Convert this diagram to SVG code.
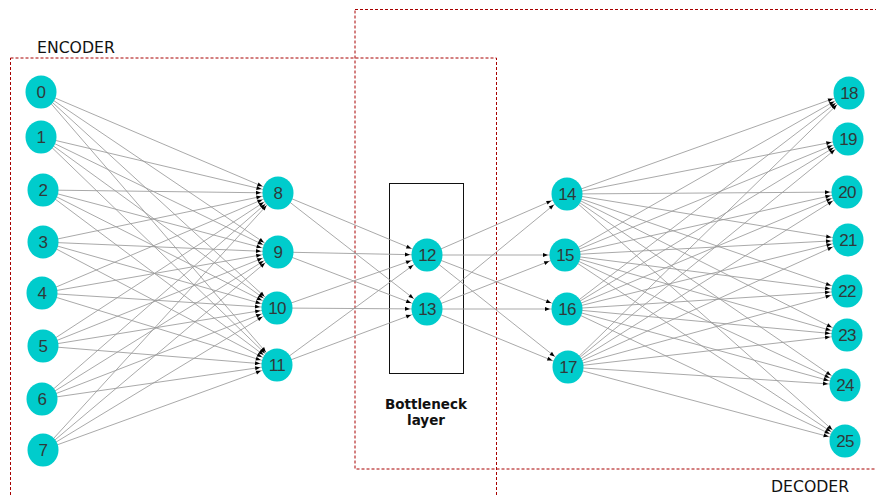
<svg xmlns="http://www.w3.org/2000/svg" width="876" height="497" viewBox="0 0 876 497">
<defs>
<style>
.e{stroke:#9a9a9a;stroke-width:0.85;fill:none;marker-end:url(#ah)}
.n ellipse{fill:#00cccc}
.n text{font-family:"Liberation Sans",Arial,sans-serif;font-size:17px;letter-spacing:-0.6px;fill:#2f3a3a;text-anchor:middle}
.box{fill:none;stroke:#a80000;stroke-width:1;stroke-dasharray:3 2}
.cap{font-family:"DejaVu Sans",sans-serif;font-size:15.7px;fill:#111}
.bl{font-family:"DejaVu Sans",sans-serif;font-size:13.5px;font-weight:bold;fill:#111;text-anchor:middle}
</style>
<marker id="ah" viewBox="0 0 22 4" refX="22" refY="2" markerWidth="22" markerHeight="4" markerUnits="userSpaceOnUse" orient="auto" overflow="visible">
<path d="M0,0 L5,2 L0,4 z" fill="#000"/>
</marker>
</defs>
<rect width="876" height="497" fill="#fff"/>

<!-- group frames -->
<rect class="box" x="10.5" y="58" width="486" height="450"/>
<rect class="box" x="355" y="9.5" width="530" height="459.5"/>
<text class="cap" x="37" y="53">ENCODER</text>
<text class="cap" x="771" y="492">DECODER</text>

<!-- bottleneck frame -->
<rect x="389.5" y="183.5" width="74" height="190" fill="none" stroke="#111" stroke-width="1"/>
<text class="bl" x="426" y="409">Bottleneck</text>
<text class="bl" x="426" y="425">layer</text>

<g id="connectors">
<!-- inputs to hidden layer 1 -->
<line class="e" x1="41" y1="92" x2="278" y2="193"/>
<line class="e" x1="41" y1="92" x2="278" y2="252"/>
<line class="e" x1="41" y1="92" x2="277" y2="308"/>
<line class="e" x1="41" y1="92" x2="277" y2="365"/>
<line class="e" x1="41" y1="137" x2="278" y2="193"/>
<line class="e" x1="41" y1="137" x2="278" y2="252"/>
<line class="e" x1="41" y1="137" x2="277" y2="308"/>
<line class="e" x1="41" y1="137" x2="277" y2="365"/>
<line class="e" x1="43" y1="190" x2="278" y2="193"/>
<line class="e" x1="43" y1="190" x2="278" y2="252"/>
<line class="e" x1="43" y1="190" x2="277" y2="308"/>
<line class="e" x1="43" y1="190" x2="277" y2="365"/>
<line class="e" x1="43" y1="242" x2="278" y2="193"/>
<line class="e" x1="43" y1="242" x2="278" y2="252"/>
<line class="e" x1="43" y1="242" x2="277" y2="308"/>
<line class="e" x1="43" y1="242" x2="277" y2="365"/>
<line class="e" x1="42" y1="293" x2="278" y2="193"/>
<line class="e" x1="42" y1="293" x2="278" y2="252"/>
<line class="e" x1="42" y1="293" x2="277" y2="308"/>
<line class="e" x1="42" y1="293" x2="277" y2="365"/>
<line class="e" x1="43" y1="346" x2="278" y2="193"/>
<line class="e" x1="43" y1="346" x2="278" y2="252"/>
<line class="e" x1="43" y1="346" x2="277" y2="308"/>
<line class="e" x1="43" y1="346" x2="277" y2="365"/>
<line class="e" x1="42" y1="399" x2="278" y2="193"/>
<line class="e" x1="42" y1="399" x2="278" y2="252"/>
<line class="e" x1="42" y1="399" x2="277" y2="308"/>
<line class="e" x1="42" y1="399" x2="277" y2="365"/>
<line class="e" x1="43" y1="450" x2="278" y2="193"/>
<line class="e" x1="43" y1="450" x2="278" y2="252"/>
<line class="e" x1="43" y1="450" x2="277" y2="308"/>
<line class="e" x1="43" y1="450" x2="277" y2="365"/>
<!-- hidden layer 1 to bottleneck -->
<line class="e" x1="278" y1="193" x2="427" y2="255"/>
<line class="e" x1="278" y1="193" x2="427" y2="309"/>
<line class="e" x1="278" y1="252" x2="427" y2="255"/>
<line class="e" x1="278" y1="252" x2="427" y2="309"/>
<line class="e" x1="277" y1="308" x2="427" y2="255"/>
<line class="e" x1="277" y1="308" x2="427" y2="309"/>
<line class="e" x1="277" y1="365" x2="427" y2="255"/>
<line class="e" x1="277" y1="365" x2="427" y2="309"/>
<!-- bottleneck to hidden layer 2 -->
<line class="e" x1="427" y1="255" x2="567" y2="194"/>
<line class="e" x1="427" y1="255" x2="565" y2="255"/>
<line class="e" x1="427" y1="255" x2="567" y2="309"/>
<line class="e" x1="427" y1="255" x2="568" y2="367"/>
<line class="e" x1="427" y1="309" x2="567" y2="194"/>
<line class="e" x1="427" y1="309" x2="565" y2="255"/>
<line class="e" x1="427" y1="309" x2="567" y2="309"/>
<line class="e" x1="427" y1="309" x2="568" y2="367"/>
<!-- hidden layer 2 to outputs -->
<line class="e" x1="567" y1="194" x2="849" y2="93"/>
<line class="e" x1="567" y1="194" x2="848" y2="139"/>
<line class="e" x1="567" y1="194" x2="847" y2="192"/>
<line class="e" x1="567" y1="194" x2="848" y2="240"/>
<line class="e" x1="567" y1="194" x2="847" y2="291"/>
<line class="e" x1="567" y1="194" x2="847" y2="335"/>
<line class="e" x1="567" y1="194" x2="845" y2="385"/>
<line class="e" x1="567" y1="194" x2="845" y2="441"/>
<line class="e" x1="565" y1="255" x2="849" y2="93"/>
<line class="e" x1="565" y1="255" x2="848" y2="139"/>
<line class="e" x1="565" y1="255" x2="847" y2="192"/>
<line class="e" x1="565" y1="255" x2="848" y2="240"/>
<line class="e" x1="565" y1="255" x2="847" y2="291"/>
<line class="e" x1="565" y1="255" x2="847" y2="335"/>
<line class="e" x1="565" y1="255" x2="845" y2="385"/>
<line class="e" x1="565" y1="255" x2="845" y2="441"/>
<line class="e" x1="567" y1="309" x2="849" y2="93"/>
<line class="e" x1="567" y1="309" x2="848" y2="139"/>
<line class="e" x1="567" y1="309" x2="847" y2="192"/>
<line class="e" x1="567" y1="309" x2="848" y2="240"/>
<line class="e" x1="567" y1="309" x2="847" y2="291"/>
<line class="e" x1="567" y1="309" x2="847" y2="335"/>
<line class="e" x1="567" y1="309" x2="845" y2="385"/>
<line class="e" x1="567" y1="309" x2="845" y2="441"/>
<line class="e" x1="568" y1="367" x2="849" y2="93"/>
<line class="e" x1="568" y1="367" x2="848" y2="139"/>
<line class="e" x1="568" y1="367" x2="847" y2="192"/>
<line class="e" x1="568" y1="367" x2="848" y2="240"/>
<line class="e" x1="568" y1="367" x2="847" y2="291"/>
<line class="e" x1="568" y1="367" x2="847" y2="335"/>
<line class="e" x1="568" y1="367" x2="845" y2="385"/>
<line class="e" x1="568" y1="367" x2="845" y2="441"/>
</g>

<g id="n0" class="n"><ellipse cx="41" cy="92" rx="15.5" ry="16.5"/><text x="41" y="98">0</text></g>
<g id="n1" class="n"><ellipse cx="41" cy="137" rx="15.5" ry="16.5"/><text x="41" y="143">1</text></g>
<g id="n2" class="n"><ellipse cx="43" cy="190" rx="15.5" ry="16.5"/><text x="43" y="196">2</text></g>
<g id="n3" class="n"><ellipse cx="43" cy="242" rx="15.5" ry="16.5"/><text x="43" y="248">3</text></g>
<g id="n4" class="n"><ellipse cx="42" cy="293" rx="15.5" ry="16.5"/><text x="42" y="299">4</text></g>
<g id="n5" class="n"><ellipse cx="43" cy="346" rx="15.5" ry="16.5"/><text x="43" y="352">5</text></g>
<g id="n6" class="n"><ellipse cx="42" cy="399" rx="15.5" ry="16.5"/><text x="42" y="405">6</text></g>
<g id="n7" class="n"><ellipse cx="43" cy="450" rx="15.5" ry="16.5"/><text x="43" y="456">7</text></g>
<g id="n8" class="n"><ellipse cx="278" cy="193" rx="15.5" ry="16.5"/><text x="278" y="199">8</text></g>
<g id="n9" class="n"><ellipse cx="278" cy="252" rx="15.5" ry="16.5"/><text x="278" y="258">9</text></g>
<g id="n10" class="n"><ellipse cx="277" cy="308" rx="15.5" ry="16.5"/><text x="277" y="314">10</text></g>
<g id="n11" class="n"><ellipse cx="277" cy="365" rx="15.5" ry="16.5"/><text x="277" y="371">11</text></g>
<g id="n12" class="n"><ellipse cx="427" cy="255" rx="15.5" ry="16.5"/><text x="427" y="261">12</text></g>
<g id="n13" class="n"><ellipse cx="427" cy="309" rx="15.5" ry="16.5"/><text x="427" y="315">13</text></g>
<g id="n14" class="n"><ellipse cx="567" cy="194" rx="15.5" ry="16.5"/><text x="567" y="200">14</text></g>
<g id="n15" class="n"><ellipse cx="565" cy="255" rx="15.5" ry="16.5"/><text x="565" y="261">15</text></g>
<g id="n16" class="n"><ellipse cx="567" cy="309" rx="15.5" ry="16.5"/><text x="567" y="315">16</text></g>
<g id="n17" class="n"><ellipse cx="568" cy="367" rx="15.5" ry="16.5"/><text x="568" y="373">17</text></g>
<g id="n18" class="n"><ellipse cx="849" cy="93" rx="15.5" ry="16.5"/><text x="849" y="99">18</text></g>
<g id="n19" class="n"><ellipse cx="848" cy="139" rx="15.5" ry="16.5"/><text x="848" y="145">19</text></g>
<g id="n20" class="n"><ellipse cx="847" cy="192" rx="15.5" ry="16.5"/><text x="847" y="198">20</text></g>
<g id="n21" class="n"><ellipse cx="848" cy="240" rx="15.5" ry="16.5"/><text x="848" y="246">21</text></g>
<g id="n22" class="n"><ellipse cx="847" cy="291" rx="15.5" ry="16.5"/><text x="847" y="297">22</text></g>
<g id="n23" class="n"><ellipse cx="847" cy="335" rx="15.5" ry="16.5"/><text x="847" y="341">23</text></g>
<g id="n24" class="n"><ellipse cx="845" cy="385" rx="15.5" ry="16.5"/><text x="845" y="391">24</text></g>
<g id="n25" class="n"><ellipse cx="845" cy="441" rx="15.5" ry="16.5"/><text x="845" y="447">25</text></g>
</svg>
